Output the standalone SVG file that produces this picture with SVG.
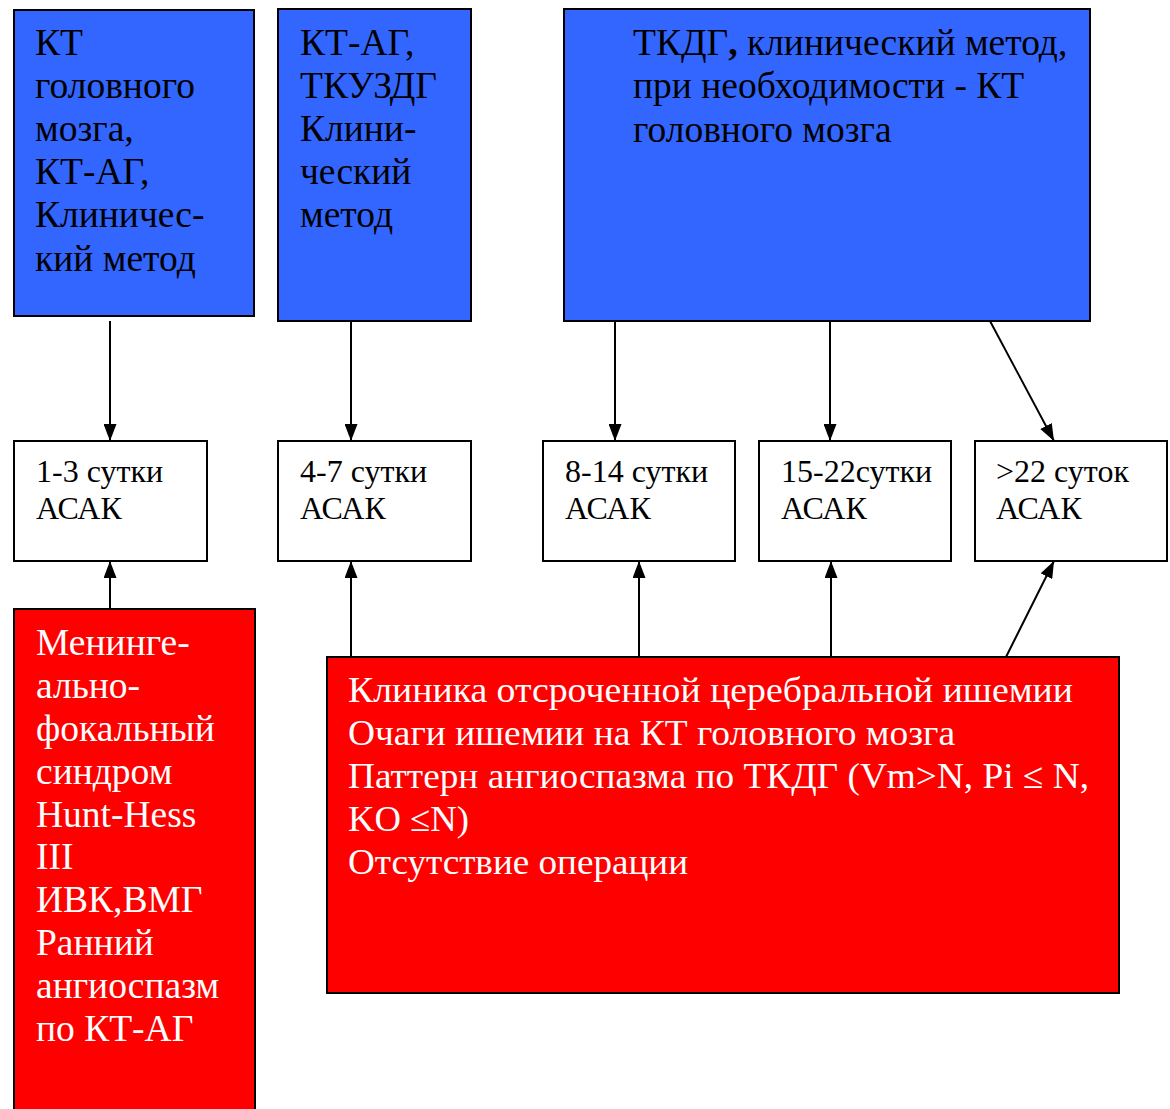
<svg xmlns="http://www.w3.org/2000/svg" width="1170" height="1109" viewBox="0 0 1170 1109">
<style>
.blue{fill:#3366FF;stroke:#000;stroke-width:2}
.red{fill:#FF0000;stroke:#000;stroke-width:2}
.white{fill:#fff;stroke:#000;stroke-width:2}
text{font-family:"Liberation Serif","Times New Roman",serif}
.t36{font-size:37.5px;fill:#000}
.w36{font-size:37.5px;fill:#fff}
.wc{font-size:36px;fill:#fff}
.t31{font-size:32px;fill:#000}
.conn line{stroke:#000;stroke-width:2;marker-end:url(#ah)}
</style>
<defs>
<marker id="ah" viewBox="0 0 17 13" refX="17" refY="6.5" markerWidth="17" markerHeight="13" markerUnits="userSpaceOnUse" orient="auto">
<path d="M0,0 L17,6.5 L0,13 Z" fill="#000"/>
</marker>
</defs>
<rect width="1170" height="1109" fill="#fff"/>
<g id="box-kt">
<rect class="blue" x="14" y="10" width="240" height="306"/>
<text class="t36"><tspan x="35" y="55">КТ</tspan><tspan x="35" y="98">головного</tspan><tspan x="35" y="141">мозга,</tspan><tspan x="35" y="184">КТ-АГ,</tspan><tspan x="35" y="227">Клиничес-</tspan><tspan x="35" y="271">кий метод</tspan></text>
</g>
<g id="box-ktag">
<rect class="blue" x="278" y="9" width="193" height="312"/>
<text class="t36"><tspan x="300" y="55">КТ-АГ,</tspan><tspan x="300" y="98">ТКУЗДГ</tspan><tspan x="300" y="141">Клини-</tspan><tspan x="300" y="184">ческий</tspan><tspan x="300" y="227">метод</tspan></text>
</g>
<g id="box-tkdg">
<rect class="blue" x="564" y="9" width="526" height="312"/>
<text class="t36"><tspan x="633" y="55">ТКДГ<tspan font-weight="bold">,</tspan> клинический метод,</tspan><tspan x="633" y="98">при необходимости - КТ</tspan><tspan x="633" y="142">головного мозга</tspan></text>
</g>
<g id="day-1-3">
<rect class="white" x="14" y="441" width="193" height="120"/>
<text class="t31"><tspan x="36" y="482">1-3 сутки</tspan><tspan x="36" y="519">АСАК</tspan></text>
</g>
<g id="day-4-7">
<rect class="white" x="278" y="441" width="193" height="120"/>
<text class="t31"><tspan x="300" y="482">4-7 сутки</tspan><tspan x="300" y="519">АСАК</tspan></text>
</g>
<g id="day-8-14">
<rect class="white" x="543" y="441" width="192" height="120"/>
<text class="t31"><tspan x="565" y="482">8-14 сутки</tspan><tspan x="565" y="519">АСАК</tspan></text>
</g>
<g id="day-15-22">
<rect class="white" x="759" y="441" width="192" height="120"/>
<text class="t31"><tspan x="781" y="482">15-22сутки</tspan><tspan x="781" y="519">АСАК</tspan></text>
</g>
<g id="day-22plus">
<rect class="white" x="975" y="441" width="192" height="120"/>
<text class="t31"><tspan x="996" y="482">&gt;22 суток</tspan><tspan x="996" y="519">АСАК</tspan></text>
</g>
<g id="red-left">
<rect class="red" x="14" y="609" width="241" height="520"/>
<text class="w36"><tspan x="36" y="655">Менинге-</tspan><tspan x="36" y="698">ально-</tspan><tspan x="36" y="741">фокальный</tspan><tspan x="36" y="784">синдром</tspan><tspan x="36" y="827">Hunt-Hess</tspan><tspan x="36" y="869">III</tspan><tspan x="36" y="912">ИВК,ВМГ</tspan><tspan x="36" y="955">Ранний</tspan><tspan x="36" y="998">ангиоспазм</tspan><tspan x="36" y="1041">по КТ-АГ</tspan></text>
</g>
<g id="red-main">
<rect class="red" x="327" y="657" width="792" height="336"/>
<text class="wc" x="348" y="702" textLength="725" lengthAdjust="spacingAndGlyphs">Клиника  отсроченной церебральной ишемии</text>
<text class="wc" x="348" y="745" textLength="607" lengthAdjust="spacingAndGlyphs">Очаги ишемии на КТ головного мозга</text>
<text class="wc" x="348" y="788" textLength="741" lengthAdjust="spacingAndGlyphs">Паттерн ангиоспазма по ТКДГ (Vm&gt;N, Pi ≤ N,</text>
<text class="wc" x="348" y="831" textLength="121" lengthAdjust="spacingAndGlyphs">KO ≤N)</text>
<text class="wc" x="348" y="874" textLength="340" lengthAdjust="spacingAndGlyphs">Отсутствие операции</text>
</g>
<g id="connectors" class="conn">
<line x1="110" y1="321" x2="110" y2="441"/>
<line x1="351" y1="321" x2="351" y2="441"/>
<line x1="615" y1="321" x2="615" y2="441"/>
<line x1="830" y1="321" x2="830" y2="441"/>
<line x1="990" y1="321" x2="1054" y2="441"/>
<line x1="110" y1="609" x2="110" y2="561"/>
<line x1="351" y1="657" x2="351" y2="561"/>
<line x1="639" y1="657" x2="639" y2="561"/>
<line x1="831" y1="657" x2="831" y2="561"/>
<line x1="1006" y1="657" x2="1054" y2="561"/>
</g>
</svg>
